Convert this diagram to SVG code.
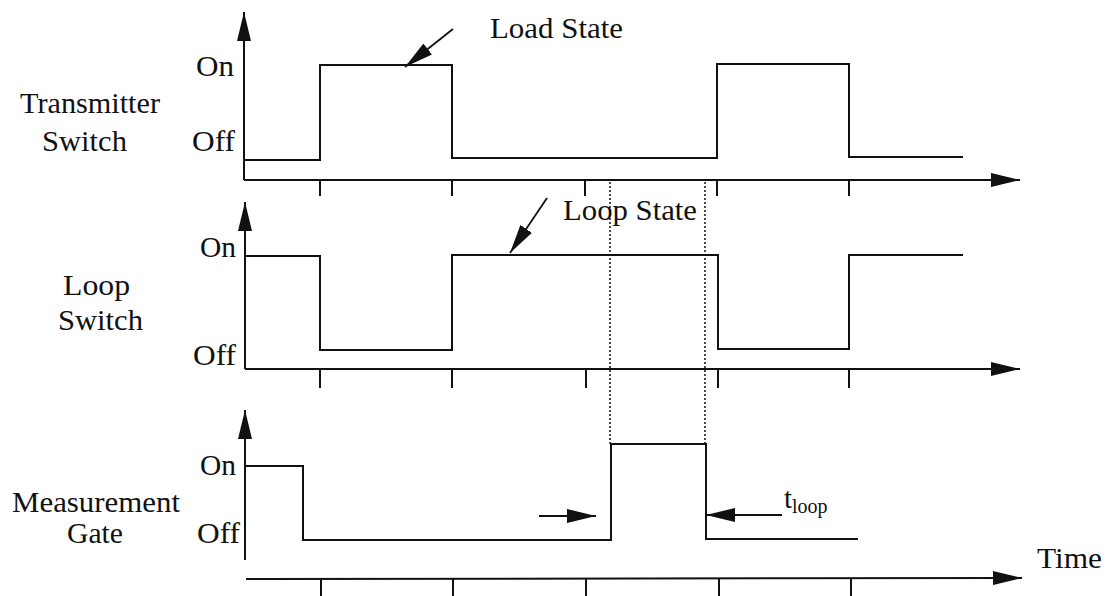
<svg xmlns="http://www.w3.org/2000/svg" width="1106" height="596" viewBox="0 0 1106 596">
<style>
  text { font-family: "Liberation Serif", "Times New Roman", serif; font-size: 29px; fill: #111; }
  .sub { font-size: 20px; }
  .ax { stroke: #111; stroke-width: 2; fill: none; }
  .sig { stroke: #111; stroke-width: 2; fill: none; }
  .tick { stroke: #111; stroke-width: 2; }
  .dot { stroke: #111; stroke-width: 1.5; stroke-dasharray: 2 2; fill: none; }
  .ptr { stroke: #111; stroke-width: 1.8; fill: none; }
</style>
<defs>
  <marker id="ah" markerWidth="30" markerHeight="14" refX="29" refY="7" orient="auto" markerUnits="userSpaceOnUse">
    <path d="M0,0 L29,7 L0,14 Z" fill="#111"/>
  </marker>
</defs>
<rect width="1106" height="596" fill="#fff"/>

<g id="transmitter-panel">
  <line class="ax" x1="244" y1="180" x2="244" y2="12" marker-end="url(#ah)"/>
  <line class="ax" x1="244" y1="180" x2="1020" y2="180" marker-end="url(#ah)"/>
  <path class="tick" d="M320,180V196 M452,180V196 M585,180V196 M717,180V196 M849,180V196"/>
  <path class="sig" d="M244,160 H320 V65 H452 V158 H717 V64 H849 V157 H963"/>
  <text x="20" y="113" textLength="140" lengthAdjust="spacingAndGlyphs">Transmitter</text>
  <text x="42" y="151" textLength="85" lengthAdjust="spacingAndGlyphs">Switch</text>
  <text x="196" y="76" textLength="38" lengthAdjust="spacingAndGlyphs">On</text>
  <text x="192" y="151" textLength="43" lengthAdjust="spacingAndGlyphs">Off</text>
</g>

<g id="loop-panel">
  <line class="ax" x1="245" y1="369" x2="245" y2="202" marker-end="url(#ah)"/>
  <line class="ax" x1="245" y1="369" x2="1020" y2="369" marker-end="url(#ah)"/>
  <path class="tick" d="M320,369V388 M452,369V388 M586,369V388 M718,369V388 M849,369V388"/>
  <path class="sig" d="M245,256 H320 V350 H452 V255 H718 V349 H849 V255 H963"/>
  <text x="63" y="295" textLength="67" lengthAdjust="spacingAndGlyphs">Loop</text>
  <text x="58" y="330" textLength="85" lengthAdjust="spacingAndGlyphs">Switch</text>
  <text x="200" y="257" textLength="36" lengthAdjust="spacingAndGlyphs">On</text>
  <text x="193" y="365" textLength="43" lengthAdjust="spacingAndGlyphs">Off</text>
</g>

<g id="gate-panel">
  <line class="ax" x1="245" y1="560" x2="245" y2="410" marker-end="url(#ah)"/>
  <line class="ax" x1="246" y1="579" x2="1022" y2="578" marker-end="url(#ah)"/>
  <path class="tick" d="M321,579V596 M453,579V596 M586,579V596 M719,579V596 M851,579V596"/>
  <path class="sig" d="M245,466 H303 V540 H611 V444 H706 V539 H858"/>
  <text x="12" y="512" textLength="168" lengthAdjust="spacingAndGlyphs">Measurement</text>
  <text x="67" y="543" textLength="56" lengthAdjust="spacingAndGlyphs">Gate</text>
  <text x="200" y="475" textLength="36" lengthAdjust="spacingAndGlyphs">On</text>
  <text x="197" y="543" textLength="43" lengthAdjust="spacingAndGlyphs">Off</text>
  <text x="1037" y="568" textLength="65" lengthAdjust="spacingAndGlyphs">Time</text>
</g>

<g id="connectors">
  <line class="dot" x1="610" y1="182" x2="610" y2="444"/>
  <line class="dot" x1="705" y1="182" x2="705" y2="444"/>
  <line class="ptr" x1="453" y1="29" x2="405" y2="67" marker-end="url(#ah)"/>
  <line class="ptr" x1="547" y1="198" x2="510" y2="253" marker-end="url(#ah)"/>
  <line class="ptr" x1="539" y1="516" x2="596" y2="516" marker-end="url(#ah)"/>
  <line class="ptr" x1="782" y1="515" x2="706" y2="515" marker-end="url(#ah)"/>
</g>

<g id="annotations">
  <text x="490" y="38" textLength="133" lengthAdjust="spacingAndGlyphs">Load State</text>
  <text x="563" y="220" textLength="134" lengthAdjust="spacingAndGlyphs">Loop State</text>
  <text x="784" y="508">t<tspan class="sub" dy="5">loop</tspan></text>
</g>
</svg>
